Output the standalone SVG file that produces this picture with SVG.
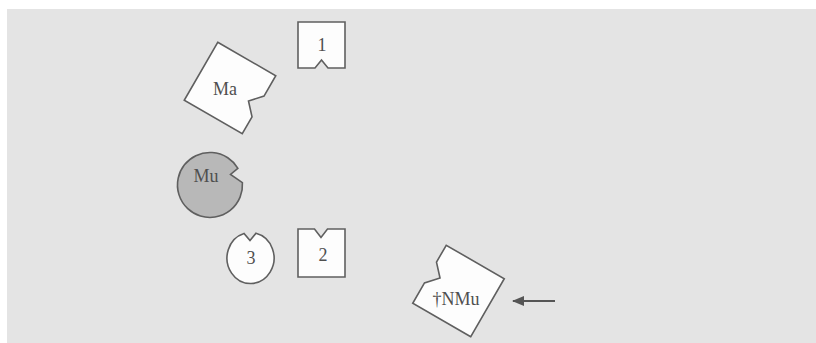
<svg xmlns="http://www.w3.org/2000/svg" width="816" height="343" viewBox="0 0 816 343">
  <defs>
    <style>
      .shape { fill: #fdfdfd; stroke: #5f5f5f; stroke-width: 1.6; stroke-linejoin: miter; }
      .dark { fill: #b8b8b8; stroke: #5f5f5f; stroke-width: 1.6; }
      .lbl { font-family: "Liberation Serif", "DejaVu Serif", serif; font-size: 18px; fill: #4f4f4f; text-anchor: middle; }
      .conn { stroke: #555; stroke-width: 2; fill: none; }
    </style>
    <path id="receptor" d="M -33.5,-33.5 L 33.5,-33.5 L 33.5,-10 L 22.5,2 L 33.5,14 L 33.5,33.5 L -33.5,33.5 Z"/>
    <marker id="ah" viewBox="0 0 12 10" refX="11" refY="5" markerWidth="12" markerHeight="10" markerUnits="userSpaceOnUse" orient="auto">
      <path d="M0,0 L12,5 L0,10 Z" fill="#555"/>
    </marker>
  </defs>
  <rect x="0" y="0" width="816" height="343" fill="#ffffff"/>
  <rect x="7" y="9" width="809" height="334" fill="#e4e4e4"/>

  <g id="node-1">
    <path class="shape" d="M 298,22 L 345,22 L 345,68 L 328,68 L 321.5,60 L 315,68 L 298,68 Z"/>
    <text class="lbl" x="322" y="51">1</text>
  </g>

  <g id="node-Ma">
    <use href="#receptor" class="shape" transform="translate(230,88) rotate(30)"/>
    <text class="lbl" x="225" y="94.5">Ma</text>
  </g>

  <g id="node-Mu">
    <path class="dark" d="M 237.9,168.3 A 32.5,32.5 0 1 0 242.4,182.7 L 230.5,174.5 Z"/>
    <text class="lbl" x="206" y="182">Mu</text>
  </g>

  <g id="node-3">
    <path class="shape" d="M 244,233.5 A 23.5,25.5 0 1 0 256,233.2 L 250,240.5 Z"/>
    <text class="lbl" x="251" y="264">3</text>
  </g>

  <g id="node-2">
    <path class="shape" d="M 298,229 L 314.5,229 L 321,237.5 L 327.5,229 L 345,229 L 345,277 L 298,277 Z"/>
    <text class="lbl" x="323" y="261">2</text>
  </g>

  <g id="node-NMu">
    <use href="#receptor" class="shape" transform="translate(458.5,291) rotate(210)"/>
    <text class="lbl" x="456" y="304.5">†NMu</text>
  </g>

  <g id="connectors">
    <line class="conn" x1="555" y1="301" x2="513" y2="301" marker-end="url(#ah)"/>
  </g>
</svg>
